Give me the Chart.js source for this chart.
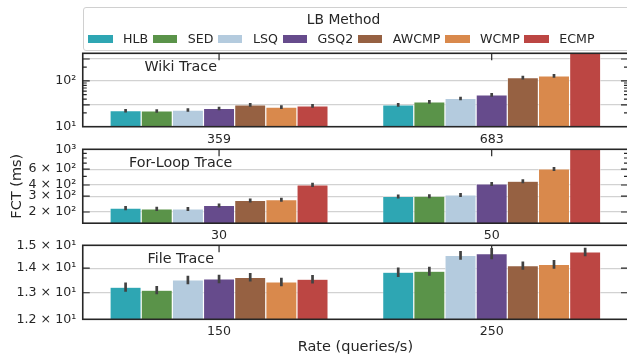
<!DOCTYPE html>
<html>
<head>
<meta charset="utf-8">
<script src="https://cdn.jsdelivr.net/npm/chart.js@4.4.1/dist/chart.umd.min.js"></script>
<style>
  html, body { margin: 0; padding: 0; background: #fff; }
  #fig { position: relative; width: 627px; height: 356px; overflow: hidden;
         font-family: 'DejaVu Sans', sans-serif; color: #262626; }
  #fig canvas { position: absolute; left: 0; top: 0; }
  #legend { position: absolute; left: 82.5px; top: 6.8px; width: 570px; height: 44.3px;
            box-sizing: border-box; border: 1px solid #d0d0d0; border-radius: 3px;
            background: rgba(255,255,255,0.8); }
  #legendTitle { position: absolute; left: 260px; top: 3px; transform: translateX(-50%);
                 font-size: 13.8px; line-height: 17px; white-space: nowrap; }
  #legendItems { position: absolute; left: 4.5px; top: 23.7px; display: flex; white-space: nowrap; }
  .item { display: inline-flex; align-items: center; margin-right: 4.6px;
          font-size: 12.6px; line-height: 15px; }
  .item i { display: inline-block; width: 24.5px; height: 8.5px; margin-right: 10.5px; }
</style>
</head>
<body>
<div id="fig">
  <canvas id="wiki" width="632" height="356"></canvas>
  <canvas id="loop" width="632" height="356"></canvas>
  <canvas id="file" width="632" height="356"></canvas>
  <div id="legend">
    <div id="legendTitle">LB Method</div>
    <div id="legendItems"></div>
  </div>
</div>
<script>
// Load-balancing methods and their colours
const methods = ['HLB', 'SED', 'LSQ', 'GSQ2', 'AWCMP', 'WCMP', 'ECMP'];
const methodColors = ['#2ea6b3', '#5a9349', '#b4cbde', '#664b8c', '#966142', '#d9894c', '#bc4643'];

// Wiki trace: mean FCT (ms) per method at each query rate, with CI half-widths
const wikiRates = ['359', '683'];
const wikiFct359 = [22.3, 22.0, 23.1, 25.0, 30.0, 26.8, 28.6];
const wikiFct683 = [30.0, 34.9, 41.3, 49.6, 118, 128.5, 520];
const wikiErr359 = [0.5, 0.5, 0.5, 0.6, 0.7, 0.6, 0.7];
const wikiErr683 = [0.7, 0.8, 1.0, 1.2, 3, 3, 12];

// For-loop trace
const loopRates = ['30', '50'];
const loopFct30 = [221, 217, 216, 237, 269, 274, 401];
const loopFct50 = [298, 300, 310, 411, 441, 604, 1400];
const loopErr30 = [4, 4, 4, 4, 5, 5, 7];
const loopErr50 = [5, 5, 5, 7, 7, 10, 25];

// File trace
const fileRates = ['150', '250'];
const fileFct150 = [13.22, 13.10, 13.51, 13.55, 13.62, 13.43, 13.54];
const fileFct250 = [13.83, 13.87, 14.55, 14.63, 14.11, 14.16, 14.70];
const fileErr150 = [0.13, 0.11, 0.12, 0.12, 0.12, 0.12, 0.12];
const fileErr250 = [0.14, 0.13, 0.13, 0.19, 0.12, 0.13, 0.13];

// Y tick values and labels per panel
const wikiTicks = [10, 30, 100, 300];
const wikiTickText = ['10¹', '', '10²', ''];
const wikiMajor = [30, 100, 300];
const wikiMinor = [20, 40, 50, 60, 70, 80, 90, 200];

const loopTicks = [200, 300, 400, 600, 1000];
const loopTickText = ['2 × 10²', '3 × 10²', '4 × 10²', '6 × 10²', '10³'];
const loopMajor = [200, 300, 400, 600];
const loopMinor = [500, 700, 800, 900];

const fileTicks = [12, 13, 14, 15];
const fileTickText = ['1.2 × 10¹', '1.3 × 10¹', '1.4 × 10¹', '1.5 × 10¹'];
const fileMajor = [13, 14];
const fileMinor = [];

Chart.defaults.font.family = "'DejaVu Sans', sans-serif";
Chart.defaults.color = '#262626';

// Legend
const legendRow = document.getElementById('legendItems');
methods.forEach((m, i) => {
  const it = document.createElement('span');
  it.className = 'item';
  const sw = document.createElement('i');
  sw.style.background = methodColors[i];
  it.appendChild(sw);
  it.appendChild(document.createTextNode(m));
  legendRow.appendChild(it);
});

// Inward tick marks, error bars, frame and in-axes panel title
const panelDecor = {
  id: 'panelDecor',
  beforeDatasetsDraw(chart, args, opts) {
    const { ctx, chartArea: a, scales: { x, y } } = chart;
    ctx.save();
    ctx.strokeStyle = '#262626';
    ctx.lineWidth = 1.2;
    const mark = (v, len) => {
      const py = y.getPixelForValue(v);
      ctx.beginPath();
      ctx.moveTo(a.left, py); ctx.lineTo(a.left + len, py);
      ctx.moveTo(a.right, py); ctx.lineTo(a.right - len, py);
      ctx.stroke();
    };
    opts.major.forEach(v => mark(v, 7));
    opts.minor.forEach(v => mark(v, 4));
    x.ticks.forEach((t, i) => {
      const px = x.getPixelForTick(i);
      ctx.beginPath();
      ctx.moveTo(px, a.top); ctx.lineTo(px, a.top + 7);
      ctx.moveTo(px, a.bottom); ctx.lineTo(px, a.bottom - 7);
      ctx.stroke();
    });
    ctx.restore();
  },
  afterDatasetsDraw(chart, args, opts) {
    const { ctx, chartArea: a, scales: { y } } = chart;
    ctx.save();
    ctx.beginPath();
    ctx.rect(a.left, a.top, a.right - a.left, a.bottom - a.top);
    ctx.clip();
    ctx.strokeStyle = '#424242';
    ctx.lineWidth = 2.7;
    ctx.lineCap = 'square';
    chart.data.datasets.forEach((ds, i) => {
      chart.getDatasetMeta(i).data.forEach((bar, j) => {
        const v = ds.data[j], e = ds.errors[j];
        ctx.beginPath();
        ctx.moveTo(bar.x, y.getPixelForValue(v - e));
        ctx.lineTo(bar.x, y.getPixelForValue(v + e));
        ctx.stroke();
      });
    });
    ctx.restore();

    ctx.save();
    ctx.strokeStyle = '#262626';
    ctx.lineWidth = 1.6;
    ctx.strokeRect(a.left, a.top, a.right - a.left, a.bottom - a.top);
    ctx.fillStyle = '#262626';
    ctx.font = "14.3px 'DejaVu Sans'";
    ctx.textAlign = 'center';
    ctx.textBaseline = 'middle';
    ctx.fillText(opts.title, a.left + 98, a.top + 13.5);
    ctx.restore();
  }
};

function makePanel(id, p) {
  const datasets = methods.map((m, i) => ({
    label: m,
    data: [p.first[i], p.second[i]],
    errors: [p.firstErr[i], p.secondErr[i]],
    backgroundColor: methodColors[i],
    borderColor: '#ffffff',
    borderWidth: 0.6,
    borderSkipped: 'bottom',
    barPercentage: 1,
    categoryPercentage: 0.8
  }));
  return new Chart(document.getElementById(id), {
    type: 'bar',
    data: { labels: p.rates, datasets },
    options: {
      responsive: false,
      animation: false,
      devicePixelRatio: 1,
      layout: { padding: { top: p.top, left: 0, right: 4, bottom: 0 } },
      plugins: {
        legend: { display: false },
        tooltip: { enabled: false },
        panelDecor: { title: p.title, major: p.major, minor: p.minor }
      },
      scales: {
        x: {
          type: 'category',
          grid: { display: false, drawTicks: false },
          border: { display: false },
          ticks: { font: { size: 12.6 }, padding: 5, maxRotation: 0 },
          title: p.xTitle ? { display: true, text: p.xTitle, font: { size: 14.5 }, padding: { top: 0, bottom: 0 } } : { display: false },
          afterFit: s => { s.height = 356 - p.bottom; }
        },
        y: {
          type: 'logarithmic',
          min: p.min,
          max: p.max,
          afterBuildTicks: s => { s.ticks = p.ticks.map(v => ({ value: v })); },
          ticks: {
            autoSkip: false,
            font: { size: 12.6 },
            padding: 6.5,
            callback: v => { const k = p.ticks.indexOf(v); return k >= 0 ? p.tickText[k] : ''; }
          },
          grid: {
            drawTicks: false,
            lineWidth: 1.2,
            color: c => (c.tick && p.major.includes(c.tick.value)) ? '#d2d2d2' : 'rgba(0,0,0,0)'
          },
          border: { display: false },
          title: p.yTitle ? { display: true, text: p.yTitle, font: { size: 14.5 }, padding: { top: 8.3, bottom: 0 } } : { display: false },
          afterFit: s => { s.width = 82.75; }
        }
      }
    },
    plugins: [panelDecor]
  });
}

makePanel('wiki', {
  title: 'Wiki Trace', rates: wikiRates,
  first: wikiFct359, second: wikiFct683, firstErr: wikiErr359, secondErr: wikiErr683,
  min: 10, max: 400, ticks: wikiTicks, tickText: wikiTickText, major: wikiMajor, minor: wikiMinor,
  top: 53.3, bottom: 126.7
});
makePanel('loop', {
  title: 'For-Loop Trace', rates: loopRates,
  first: loopFct30, second: loopFct50, firstErr: loopErr30, secondErr: loopErr50,
  min: 150, max: 1000, ticks: loopTicks, tickText: loopTickText, major: loopMajor, minor: loopMinor,
  top: 149.3, bottom: 223.2, yTitle: 'FCT (ms)'
});
makePanel('file', {
  title: 'File Trace', rates: fileRates,
  first: fileFct150, second: fileFct250, firstErr: fileErr150, secondErr: fileErr250,
  min: 12, max: 15, ticks: fileTicks, tickText: fileTickText, major: fileMajor, minor: fileMinor,
  top: 245.3, bottom: 319.3, xTitle: 'Rate (queries/s)'
});
</script>
</body>
</html>
